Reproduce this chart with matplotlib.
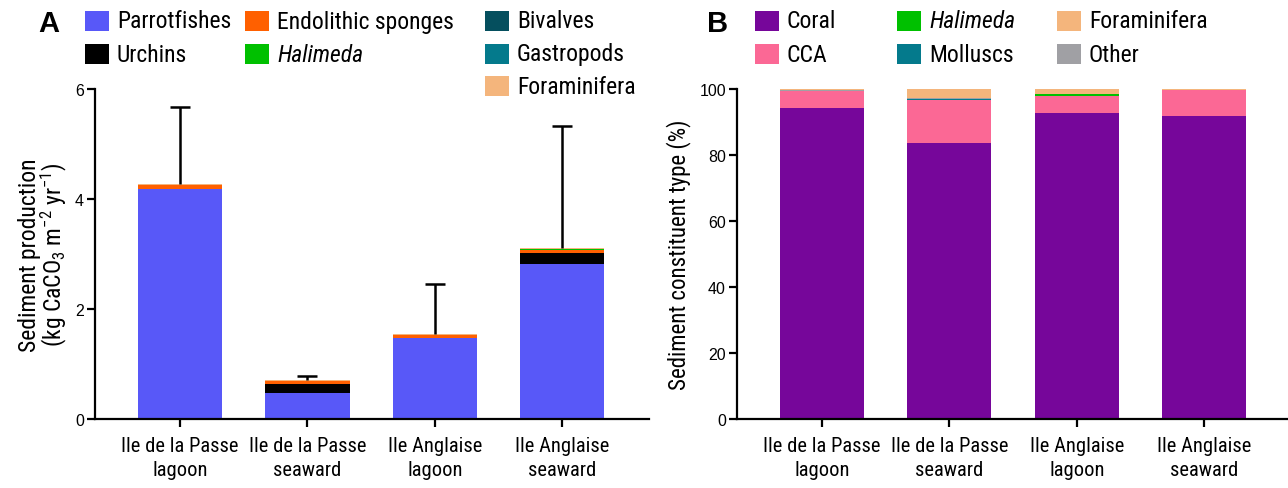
import matplotlib
matplotlib.use('Agg')
import matplotlib.pyplot as plt
from matplotlib import font_manager as fm
from matplotlib.patches import Rectangle
import numpy as np

# pick a narrow sans face if one is installed (the original uses a condensed face)
NARROW = None
for pref in ['Liberation Sans Narrow', 'Roboto Condensed', 'Open Sans Condensed', 'DejaVu Sans']:
    for f in fm.fontManager.ttflist:
        if f.name == pref and (pref != 'DejaVu Sans' or 'condensed' in str(f.stretch)):
            NARROW = (f.name, f.stretch if 'condensed' in str(f.stretch) else 'normal')
            break
    if NARROW:
        break
if NARROW is None:
    for f in fm.fontManager.ttflist:
        if 'condensed' in str(f.stretch) or 'Narrow' in f.name or 'Condensed' in f.name:
            NARROW = (f.name, f.stretch)
            break
if NARROW is None:
    NARROW = ('Roboto', 'normal')
    FS, FX = 14, 13
else:
    FS, FX = 17, 14.8

plt.rcParams['font.family'] = [NARROW[0], 'DejaVu Sans']
plt.rcParams['font.stretch'] = NARROW[1]
plt.rcParams['mathtext.fontset'] = 'custom'
plt.rcParams['mathtext.rm'] = NARROW[0]
plt.rcParams['mathtext.default'] = 'rm'

sites = ['Ile de la Passe\nlagoon', 'Ile de la Passe\nseaward',
         'Ile Anglaise\nlagoon', 'Ile Anglaise\nseaward']

# Panel A: sediment production (kg CaCO3 m-2 yr-1)
prod_labels = ['Parrotfishes', 'Urchins', 'Endolithic sponges', 'Halimeda',
               'Bivalves', 'Gastropods', 'Foraminifera']
parrotfishes = [4.19, 0.48, 1.47, 2.82]
urchins = [0.0, 0.15, 0.0, 0.20]
endolithic = [0.06, 0.06, 0.05, 0.06]
halimeda_a = [0.002, 0.002, 0.002, 0.002]
bivalves = [0.002, 0.002, 0.002, 0.002]
gastropods = [0.002, 0.002, 0.002, 0.002]
foram_a = [0.02, 0.01, 0.02, 0.02]
prod_sd = [1.40, 0.08, 0.90, 2.22]
prod_colors = ['#5858f8', '#000000', '#ff6000', '#00c000', '#054f5e', '#047a8c', '#f4b57c']

# Panel B: sediment constituent type (%)
cons_labels = ['Coral', 'CCA', 'Halimeda', 'Molluscs', 'Foraminifera', 'Other']
coral = [94.3, 83.6, 92.8, 91.8]
cca = [5.0, 13.1, 5.0, 7.9]
halimeda_b = [0.0, 0.0, 0.6, 0.0]
molluscs = [0.2, 0.2, 0.1, 0.1]
other = [0.2, 0.3, 0.1, 0.0]
foram_b = [0.3, 2.8, 1.4, 0.2]
cons_colors = {'Coral': '#76069a', 'CCA': '#fb6895', 'Halimeda': '#00c000',
               'Molluscs': '#047a8c', 'Foraminifera': '#f4b57c', 'Other': '#a0a0a4'}

W, H = 1288, 489
fig = plt.figure(figsize=(W / 100, H / 100), dpi=100)


def px_axes(x0, x1, y0, y1):
    return fig.add_axes([x0 / W, 1 - y1 / H, (x1 - x0) / W, (y1 - y0) / H])


def style(ax):
    for s in ['top', 'right']:
        ax.spines[s].set_visible(False)
    for s in ['left', 'bottom']:
        ax.spines[s].set_linewidth(1.6)
    ax.tick_params(axis='both', width=1.6, length=6)
    ax.tick_params(axis='y', labelsize=11.5, pad=2)
    ax.tick_params(axis='x', labelsize=FX, pad=6)
    for t in ax.get_yticklabels():
        t.set_family(['Liberation Sans', 'DejaVu Sans'])
        t.set_stretch('normal')
    for t in ax.get_xticklabels():
        t.set_linespacing(1.36)


x = np.arange(len(sites))
width = 0.66

# ---------------- Panel A ----------------
axA = px_axes(95, 649, 90, 420)
stacks_a = [parrotfishes, urchins, endolithic, halimeda_a, bivalves, gastropods, foram_a]
bottom = np.zeros(len(sites))
for vals, col in zip(stacks_a, prod_colors):
    axA.bar(x, vals, width, bottom=bottom, color=col, linewidth=0)
    bottom += np.array(vals)
eb = axA.errorbar(x, bottom, yerr=[np.zeros(len(sites)), prod_sd], fmt='none',
                  ecolor='black', elinewidth=1.8, capsize=7, capthick=1.8)
eb[1][0].set_visible(False)  # no cap at the bar top
axA.set_ylim(0, 6)
axA.set_yticks([0, 2, 4, 6])
axA.set_xlim(-0.667, 3.68)
axA.set_xticks(x)
axA.set_xticklabels(sites)
axA.set_ylabel('Sediment production\n(kg CaCO$_3$ m$^{-2}$ yr$^{-1}$)', fontsize=FS,
               linespacing=0.9, labelpad=4)
style(axA)

# ---------------- Panel B ----------------
axB = px_axes(737, 1287, 90, 420)
order_b = [('Coral', coral), ('CCA', cca), ('Halimeda', halimeda_b),
           ('Molluscs', molluscs), ('Other', other), ('Foraminifera', foram_b)]
bottom = np.zeros(len(sites))
for name, vals in order_b:
    axB.bar(x, vals, width, bottom=bottom, color=cons_colors[name], linewidth=0)
    bottom += np.array(vals)
axB.set_ylim(0, 100)
axB.set_yticks([0, 20, 40, 60, 80, 100])
axB.set_xlim(-0.667, 3.65)
axB.set_xticks(x)
axB.set_xticklabels(sites)
axB.set_ylabel('Sediment constituent type (%)', fontsize=FS - 0.5, labelpad=6)
style(axB)

# ---------------- Panel letters and legends ----------------
fig.text(38 / W, 1 - 24 / H, 'A', fontsize=21, fontweight='bold', va='center',
         family=['Liberation Sans', 'DejaVu Sans'], stretch='normal')
fig.text(707 / W, 1 - 24 / H, 'B', fontsize=21, fontweight='bold', va='center',
         family=['Liberation Sans', 'DejaVu Sans'], stretch='normal')


def key(xp, yp, color, label):
    fig.add_artist(Rectangle((xp / W, 1 - (yp + 10) / H), 24 / W, 20 / H,
                             transform=fig.transFigure, color=color, lw=0))
    fig.text((xp + 32) / W, 1 - yp / H, label, fontsize=FS, va='center',
             style='italic' if label == 'Halimeda' else 'normal')


legend_a_pos = [(85, 22), (85, 55), (245, 22), (245, 55), (485, 22), (485, 55), (485, 87)]
for (xp, yp), lab, col in zip(legend_a_pos, prod_labels, prod_colors):
    key(xp, yp, col, lab)

legend_b_pos = {'Coral': (755, 22), 'CCA': (755, 55), 'Halimeda': (897, 22),
                'Molluscs': (897, 55), 'Foraminifera': (1057, 22), 'Other': (1057, 55)}
for lab in cons_labels:
    xp, yp = legend_b_pos[lab]
    key(xp, yp, cons_colors[lab], lab)

fig.savefig('out.png', dpi=100)
